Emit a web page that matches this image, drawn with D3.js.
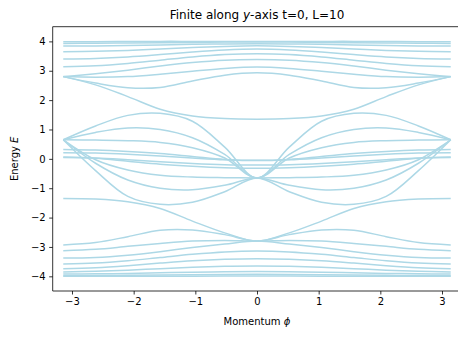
<!DOCTYPE html>
<html>
<head>
<meta charset="utf-8">
<script src="https://cdn.jsdelivr.net/npm/d3@7"></script>
<style>
  html, body { margin: 0; padding: 0; background: #fff; }
  svg { display: block; font-family: "DejaVu Sans", sans-serif; }
</style>
</head>
<body>
<svg id="chart" width="458" height="338"></svg>
<script>
// Momentum samples (radians) shared by every band
const momentum = [-3.1416, -2.618, -2.0944, -1.5708, -1.0472, -0.5236, 0,
                  0.5236, 1.0472, 1.5708, 2.0944, 2.618, 3.1416];

const phiTicks = [-3, -2, -1, 0, 1, 2, 3];
const energyTicks = [-4, -3, -2, -1, 0, 1, 2, 3, 4];

// Upper bands
const upperA = [3.99, 3.99, 3.995, 4.0, 4.0, 4.0, 4.0, 4.0, 4.0, 4.0, 3.995, 3.99, 3.99];
const upperB = [3.93, 3.935, 3.945, 3.955, 3.965, 3.975, 3.98, 3.975, 3.965, 3.955, 3.945, 3.935, 3.93];
const upperC = [3.84, 3.845, 3.86, 3.88, 3.9, 3.915, 3.92, 3.915, 3.9, 3.88, 3.86, 3.845, 3.84];
const upperD = [3.65, 3.66, 3.69, 3.74, 3.79, 3.83, 3.85, 3.83, 3.79, 3.74, 3.69, 3.66, 3.65];
const upperE = [3.40, 3.42, 3.47, 3.55, 3.64, 3.71, 3.74, 3.71, 3.64, 3.55, 3.47, 3.42, 3.40];
const upperF = [3.14, 3.17, 3.25, 3.36, 3.47, 3.55, 3.58, 3.55, 3.47, 3.36, 3.25, 3.17, 3.14];
const upperG = [2.80, 2.90, 3.02, 3.16, 3.28, 3.36, 3.38, 3.36, 3.28, 3.16, 3.02, 2.90, 2.80];
const upperH = [2.80, 2.78, 2.80, 2.88, 2.98, 3.08, 3.13, 3.08, 2.98, 2.88, 2.80, 2.78, 2.80];
const upperBowl = [2.80, 2.58, 2.42, 2.43, 2.65, 2.85, 2.93, 2.85, 2.65, 2.43, 2.42, 2.58, 2.80];
const upperEdge = [2.80, 2.52, 2.12, 1.69, 1.46, 1.37, 1.35, 1.37, 1.46, 1.69, 2.12, 2.52, 2.80];

// Middle bands
const midP1 = [0.65, 1.12, 1.48, 1.55, 1.28, 0.40, -0.65, 0.40, 1.28, 1.55, 1.48, 1.12, 0.65];
const midT1 = [0.65, -0.40, -1.28, -1.55, -1.48, -1.12, -0.65, -1.12, -1.48, -1.55, -1.28, -0.40, 0.65];
const midP2 = [0.65, 0.90, 1.05, 1.00, 0.72, 0.15, -0.65, 0.15, 0.72, 1.00, 1.05, 0.90, 0.65];
const midT2 = [0.65, -0.15, -0.72, -1.00, -1.05, -0.90, -0.65, -0.90, -1.05, -1.00, -0.72, -0.15, 0.65];
const midP3 = [0.65, 0.64, 0.62, 0.56, 0.38, 0.03, -0.65, 0.03, 0.38, 0.56, 0.62, 0.64, 0.65];
const midT3 = [0.65, -0.03, -0.38, -0.56, -0.62, -0.64, -0.65, -0.64, -0.62, -0.56, -0.38, -0.03, 0.65];
const midZ1 = [0.32, 0.30, 0.25, 0.18, 0.08, -0.02, -0.06, -0.02, 0.08, 0.18, 0.25, 0.30, 0.32];
const midZ2 = [0.06, 0.02, -0.08, -0.18, -0.25, -0.30, -0.32, -0.30, -0.25, -0.18, -0.08, 0.02, 0.06];
const midZ3 = [0.21, 0.20, 0.16, 0.10, 0.03, -0.03, -0.05, -0.03, 0.03, 0.10, 0.16, 0.20, 0.21];
const midZ4 = [0.05, 0.03, -0.03, -0.10, -0.16, -0.20, -0.21, -0.20, -0.16, -0.10, -0.03, 0.03, 0.05];

// Lower bands
const lowerEdge = [-1.35, -1.37, -1.46, -1.69, -2.12, -2.52, -2.80, -2.52, -2.12, -1.69, -1.46, -1.37, -1.35];
const lowerBowl = [-2.93, -2.85, -2.65, -2.43, -2.42, -2.58, -2.80, -2.58, -2.42, -2.43, -2.65, -2.85, -2.93];
const lowerH = [-3.13, -3.08, -2.98, -2.88, -2.80, -2.78, -2.80, -2.78, -2.80, -2.88, -2.98, -3.08, -3.13];
const lowerG = [-3.38, -3.36, -3.28, -3.16, -3.02, -2.90, -2.80, -2.90, -3.02, -3.16, -3.28, -3.36, -3.38];
const lowerF = [-3.58, -3.55, -3.47, -3.36, -3.25, -3.17, -3.14, -3.17, -3.25, -3.36, -3.47, -3.55, -3.58];
const lowerE = [-3.74, -3.71, -3.64, -3.55, -3.47, -3.42, -3.40, -3.42, -3.47, -3.55, -3.64, -3.71, -3.74];
const lowerD = [-3.85, -3.83, -3.79, -3.74, -3.69, -3.66, -3.65, -3.66, -3.69, -3.74, -3.79, -3.83, -3.85];
const lowerC = [-3.92, -3.915, -3.9, -3.88, -3.86, -3.845, -3.84, -3.845, -3.86, -3.88, -3.9, -3.915, -3.92];
const lowerB = [-3.98, -3.975, -3.965, -3.955, -3.945, -3.935, -3.93, -3.935, -3.945, -3.955, -3.965, -3.975, -3.98];
const lowerA = [-4.0, -4.0, -4.0, -4.0, -3.995, -3.99, -3.99, -3.99, -3.995, -4.0, -4.0, -4.0, -4.0];

const bands = [upperA, upperB, upperC, upperD, upperE, upperF, upperG, upperH, upperBowl, upperEdge,
               midP1, midT1, midP2, midT2, midP3, midT3, midZ1, midZ2, midZ3, midZ4,
               lowerEdge, lowerBowl, lowerH, lowerG, lowerF, lowerE, lowerD, lowerC, lowerB, lowerA];

const svg = d3.select("#chart");
const plotLeft = 52.7, plotRight = 461.3, plotTop = 26.7, plotBottom = 291;

const x = d3.scaleLinear().domain([-3.3129, 3.3129]).range([plotLeft, plotRight]);
const y = d3.scaleLinear().domain([-4.5, 4.5]).range([plotBottom, plotTop]);

const line = d3.line()
  .x((d, i) => x(momentum[i]))
  .y(d => y(d))
  .curve(d3.curveCatmullRom.alpha(0.5));

const clip = svg.append("defs").append("clipPath").attr("id", "plot-clip");
clip.append("rect").attr("x", plotLeft).attr("y", plotTop)
  .attr("width", plotRight - plotLeft).attr("height", plotBottom - plotTop);

svg.append("g")
  .attr("clip-path", "url(#plot-clip)")
  .selectAll("path")
  .data(bands)
  .join("path")
  .attr("d", line)
  .attr("fill", "none")
  .attr("stroke", "#add8e6")
  .attr("stroke-width", 1.5);

const fmt = d => (d < 0 ? "\u2212" + Math.abs(d) : String(d));

const xAxis = svg.append("g")
  .attr("transform", `translate(0,${plotBottom})`)
  .call(d3.axisBottom(x).tickValues(phiTicks).tickFormat(fmt).tickSize(3.5).tickPadding(3.5));
const yAxis = svg.append("g")
  .attr("transform", `translate(${plotLeft},0)`)
  .call(d3.axisLeft(y).tickValues(energyTicks).tickFormat(fmt).tickSize(3.5).tickPadding(3.5));

[xAxis, yAxis].forEach(g => {
  g.select(".domain").remove();
  g.selectAll(".tick line").attr("stroke", "#000").attr("stroke-width", 0.8);
  g.selectAll(".tick text").attr("font-size", 10).attr("fill", "#000")
    .attr("font-family", "DejaVu Sans, sans-serif");
});

// Spines
const spine = svg.append("g").attr("stroke", "#000").attr("stroke-width", 0.8).attr("fill", "none");
spine.append("line").attr("x1", plotLeft).attr("x2", plotLeft).attr("y1", plotTop).attr("y2", plotBottom);
spine.append("line").attr("x1", plotLeft).attr("x2", plotRight).attr("y1", plotTop).attr("y2", plotTop);
spine.append("line").attr("x1", plotLeft).attr("x2", plotRight).attr("y1", plotBottom).attr("y2", plotBottom);
spine.append("line").attr("x1", plotRight).attr("x2", plotRight).attr("y1", plotTop).attr("y2", plotBottom);

// Title
const title = svg.append("text")
  .attr("x", (plotLeft + plotRight) / 2).attr("y", 19)
  .attr("text-anchor", "middle").attr("font-size", 12).attr("fill", "#000");
title.append("tspan").text("Finite along ");
title.append("tspan").attr("font-style", "italic").text("y");
title.append("tspan").text("-axis t=0, L=10");

// Axis labels
const xl = svg.append("text")
  .attr("x", (plotLeft + plotRight) / 2).attr("y", 325)
  .attr("text-anchor", "middle").attr("font-size", 10).attr("fill", "#000");
xl.append("tspan").text("Momentum ");
xl.append("tspan").attr("font-style", "italic").text("\u03d5");

const yl = svg.append("text")
  .attr("transform", `translate(18,${(plotTop + plotBottom) / 2}) rotate(-90)`)
  .attr("text-anchor", "middle").attr("font-size", 10).attr("fill", "#000");
yl.append("tspan").text("Energy ");
yl.append("tspan").attr("font-style", "italic").text("E");
</script>
</body>
</html>
